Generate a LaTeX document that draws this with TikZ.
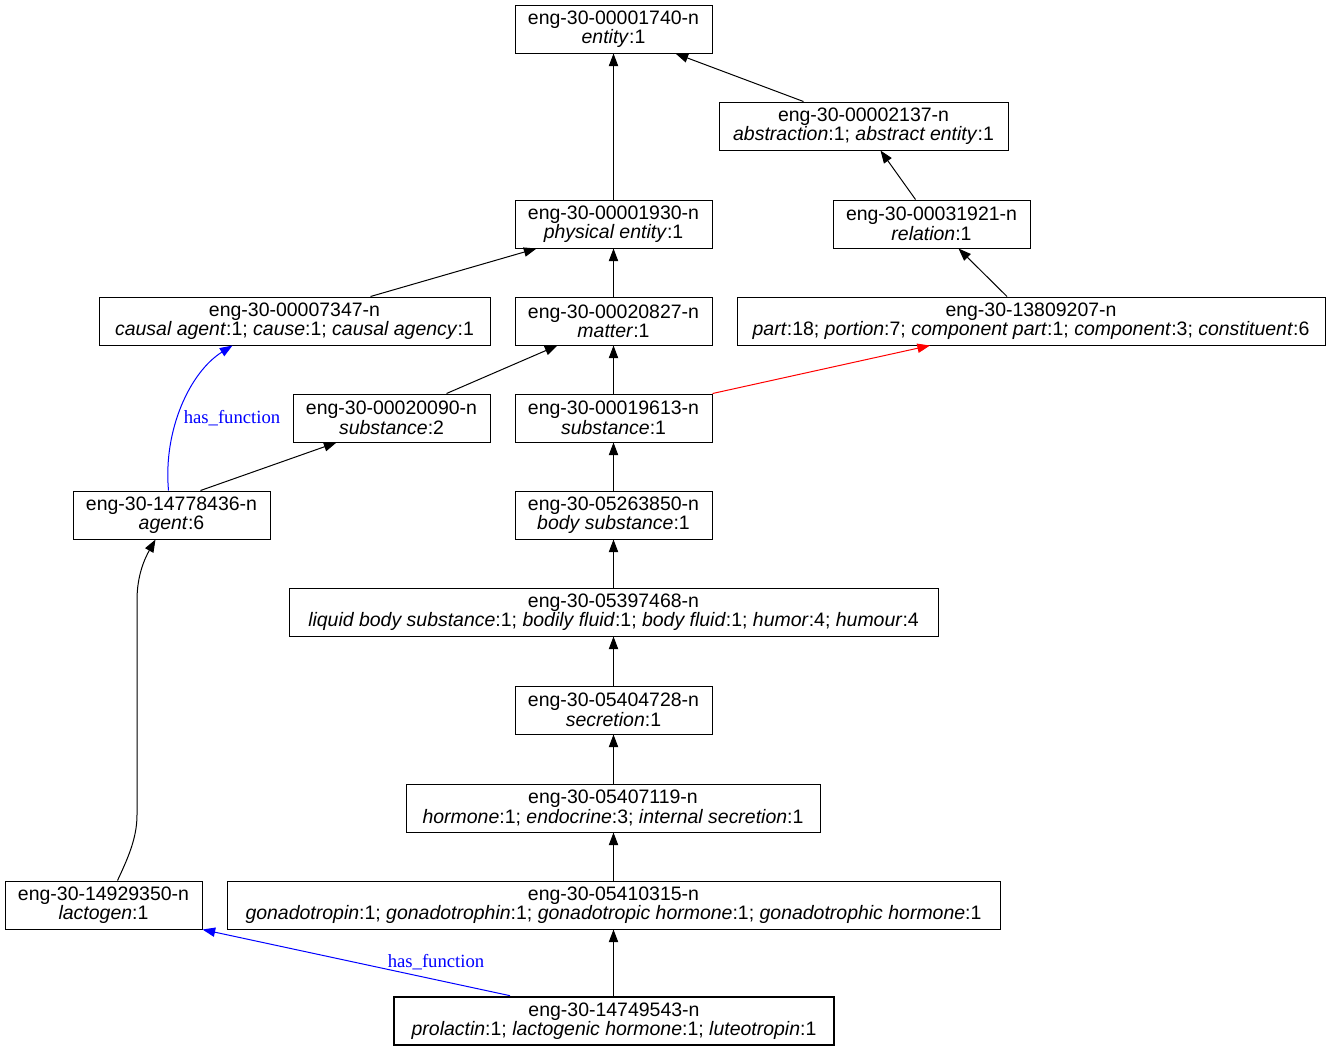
\documentclass[tikz,border=0pt]{standalone}
\usepackage{fontspec}
\setmainfont{Liberation Sans}
\newfontfamily\relfont{Liberation Serif}
\usepackage{xcolor}
\usetikzlibrary{arrows.meta,calc}

\newcommand{\lem}[1]{\textit{#1}}

\begin{document}
\begin{tikzpicture}[x=0.75pt,y=-0.75pt,
    syn/.style={draw, line width=0.75pt, align=center, inner sep=0pt,
        minimum height=36pt, font=\fontsize{14.6}{12.6}\selectfont},
    wd/.style={minimum width={#1*0.75pt}},
    hyp/.style={-{Triangle[length=9.5pt,width=7pt]}, line width=0.75pt},
    rel/.style={hyp, blue},
    rellabel/.style={text=blue, font=\relfont\fontsize{14}{14}\selectfont, inner sep=0pt}]
    \useasboundingbox (0,0) rectangle (1330,1051);

    % synsets, top to bottom
    \node[syn, wd=197] (entity) at (613.5,29) {eng-30-00001740-n\\\lem{entity}:1};
    \node[syn, wd=289] (abstr) at (863.5,126) {eng-30-00002137-n\\\lem{abstraction}:1; \lem{abstract entity}:1};
    \node[syn, wd=197] (phys) at (613.5,224) {eng-30-00001930-n\\\lem{physical entity}:1};
    \node[syn, wd=197] (relation) at (931.5,224) {eng-30-00031921-n\\\lem{relation}:1};
    \node[syn, wd=391] (causal) at (294.5,321) {eng-30-00007347-n\\\lem{causal agent}:1; \lem{cause}:1; \lem{causal agency}:1};
    \node[syn, wd=197] (matter) at (613.5,321) {eng-30-00020827-n\\\lem{matter}:1};
    \node[syn, wd=588] (part) at (1031,321) {eng-30-13809207-n\\\lem{part}:18; \lem{portion}:7; \lem{component part}:1; \lem{component}:3; \lem{constituent}:6};
    \node[syn, wd=197] (subsb) at (391.5,418) {eng-30-00020090-n\\\lem{substance}:2};
    \node[syn, wd=197] (subsa) at (613.5,418) {eng-30-00019613-n\\\lem{substance}:1};
    \node[syn, wd=197] (agent) at (171.5,515) {eng-30-14778436-n\\\lem{agent}:6};
    \node[syn, wd=197] (bodysub) at (613.5,515) {eng-30-05263850-n\\\lem{body substance}:1};
    \node[syn, wd=649] (liquid) at (613.5,612) {eng-30-05397468-n\\\lem{liquid body substance}:1; \lem{bodily fluid}:1; \lem{body fluid}:1; \lem{humor}:4; \lem{humour}:4};
    \node[syn, wd=197] (secretion) at (613.5,710) {eng-30-05404728-n\\\lem{secretion}:1};
    \node[syn, wd=414] (hormone) at (613,808) {eng-30-05407119-n\\\lem{hormone}:1; \lem{endocrine}:3; \lem{internal secretion}:1};
    \node[syn, wd=197] (lactogen) at (103.5,905) {eng-30-14929350-n\\\lem{lactogen}:1};
    \node[syn, wd=773] (gonado) at (613.5,905) {eng-30-05410315-n\\\lem{gonadotropin}:1; \lem{gonadotrophin}:1; \lem{gonadotropic hormone}:1; \lem{gonadotrophic hormone}:1};
    \node[syn, wd=440, line width=2pt] (prolactin) at (614,1021) {eng-30-14749543-n\\\lem{prolactin}:1; \lem{lactogenic hormone}:1; \lem{luteotropin}:1};

    % hypernym links
    \draw[hyp] (phys) -- (entity);
    \draw[hyp] ($(abstr.north)+(-60,0)$) -- ($(entity.south)+(62,0)$);
    \draw[hyp] ($(relation.north)+(-16,0)$) -- ($(abstr.south)+(17,0)$);
    \draw[hyp] ($(causal.north)+(76,0)$) -- ($(phys.south)+(-77,0)$);
    \draw[hyp] (matter) -- (phys);
    \draw[hyp] ($(part.north)+(-24,0)$) -- ($(relation.south)+(27,0)$);
    \draw[hyp] ($(subsb.north)+(55,0)$) -- ($(matter.south)+(-56,0)$);
    \draw[hyp] (subsa) -- (matter);
    \draw[hyp, red] (subsa.north east) -- ($(part.south)+(-101,0)$);
    \draw[hyp] ($(agent.north)+(29,0)$) -- ($(subsb.south)+(-55,0)$);
    \draw[hyp] (bodysub) -- (subsa);
    \draw[hyp] (liquid) -- (bodysub);
    \draw[hyp] (secretion) -- (liquid);
    \draw[hyp] (hormone.north -| secretion) -- (secretion);
    \draw[hyp] (gonado.north -| secretion) -- (hormone.south -| secretion);
    \draw[hyp] (prolactin.north -| gonado) -- (gonado);
    \draw[hyp] ($(lactogen.north)+(14,0)$) .. controls (128,858) and (137,838) .. (137,815)
        -- (137,600) .. controls (137,575) and (145,558) .. ($(agent.south)+(-16,0)$);

    % has_function links
    \draw[rel] ($(agent.north)+(-3,0)$) .. controls (163,430) and (190,372) .. ($(causal.south)+(-62,0)$);
    \node[rellabel] (lblagent) at (232,418) {has\_function};
    \draw[rel] ($(prolactin.north)+(-104,0)$) -- (lactogen.south east);
    \node[rellabel] (lblprol) at (436,962) {has\_function};
\end{tikzpicture}
\end{document}
